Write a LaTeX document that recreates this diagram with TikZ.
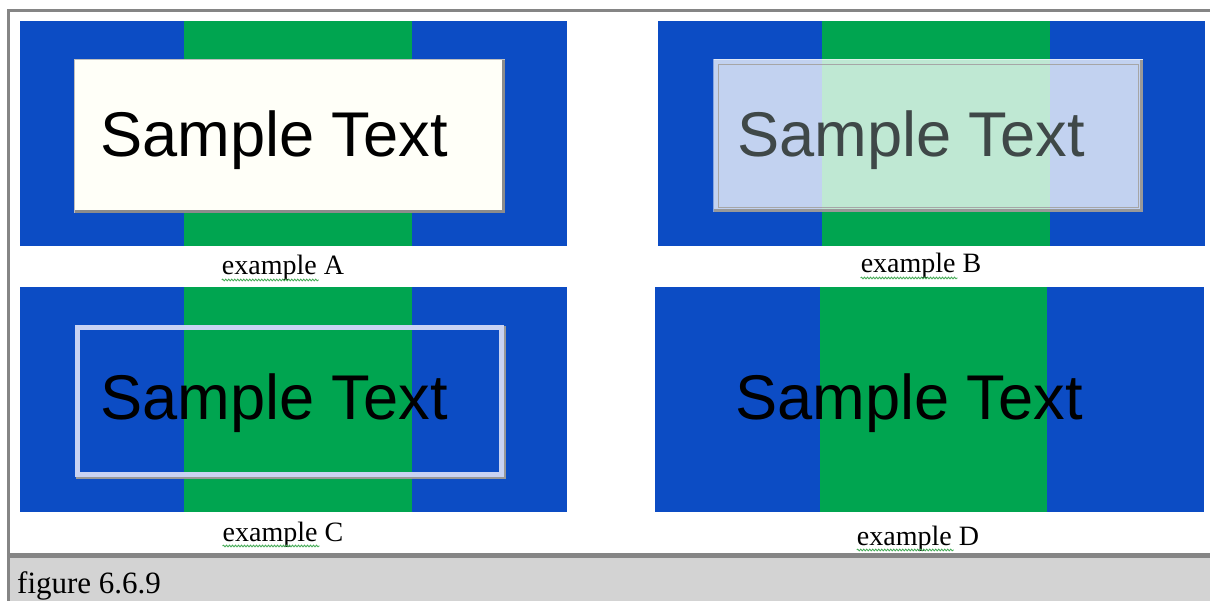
\documentclass[tikz,border=0pt]{standalone}
\usepackage{fontspec}
\setmainfont{Liberation Serif}
\newfontfamily\arialfont{Liberation Sans}
\usetikzlibrary{positioning,decorations.pathmorphing}
\definecolor{bluebar}{HTML}{0C4CC4}
\definecolor{greenbar}{HTML}{00A550}
\definecolor{framegray}{HTML}{858585}
\definecolor{capgray}{HTML}{D3D3D3}
\definecolor{ivory}{HTML}{FFFFF8}
\definecolor{lavender}{HTML}{C9D3F3}
\definecolor{textgray}{HTML}{3F4848}
\definecolor{squig}{HTML}{44AA55}

\begin{document}
\begin{tikzpicture}[x=1pt,y=-1pt,
  panel/.style={fill=bluebar,anchor=north west,inner sep=0pt,minimum width=547pt,minimum height=225pt},
  stripe/.style={fill=greenbar,anchor=north west,inner sep=0pt,minimum width=228pt,minimum height=225pt},
  sample/.style={anchor=base west,inner sep=0pt,font=\arialfont\fontsize{63.2}{63.2}\selectfont},
  btn/.style={anchor=north west,inner sep=0pt,minimum width=430pt,minimum height=153pt},
  lab/.style={anchor=base,inner sep=0pt,font=\fontsize{28}{28}\selectfont},
  squiggle/.style={draw=squig,line width=0.8pt,decorate,decoration={snake,segment length=3pt,amplitude=0.9pt}},
  shade/.style={draw=black!45,line width=3pt}]
\useasboundingbox (0,0) rectangle (1210,601);
\fill[white] (0,0) rectangle (1210,601);
% the four panels
\node[panel] (pA) at (20,21) {};
\node[stripe] (gA) at ([xshift=164pt]pA.north west) {};
\node[panel] (pB) at (658,21) {};
\node[stripe] (gB) at ([xshift=164pt]pB.north west) {};
\node[panel] (pC) at (20,287) {};
\node[stripe] (gC) at ([xshift=164pt]pC.north west) {};
\node[panel,minimum width=549pt] (pD) at (655,287) {};
\node[stripe,minimum width=227pt] (gD) at ([xshift=165pt]pD.north west) {};
% example A: opaque button
\node[btn,fill=ivory,draw=black!25,line width=1pt] (bA) at (74,59) {};
\draw[shade] ([xshift=-1.5pt,yshift=-1pt]bA.north east) -- ([xshift=-1.5pt,yshift=1.5pt]bA.south east) -- ([xshift=1pt,yshift=1.5pt]bA.south west);
\node[sample] (sA) at (100,157) {Sample Text};
% example B: see-through button
\node[btn,minimum width=429pt,minimum height=152pt,fill=white,fill opacity=0.75,draw=white,draw opacity=0.5,line width=1pt] (bB) at (713,59) {};
\draw[black!35,line width=0.8pt] ([xshift=5pt,yshift=-5pt]bB.north west) rectangle ([xshift=-5pt,yshift=5pt]bB.south east);
\draw[shade,black!40] ([xshift=-1.5pt,yshift=-1pt]bB.north east) -- ([xshift=-1.5pt,yshift=1.5pt]bB.south east) -- ([xshift=1pt,yshift=1.5pt]bB.south west);
\node[sample,text=textgray] (sB) at (737,157) {Sample Text};
% example C: outline only
\node[btn,minimum width=429pt,minimum height=152pt] (bC) at (75,325) {};
\draw[lavender,line width=5pt] ([xshift=2.5pt,yshift=-2.5pt]bC.north west) rectangle ([xshift=-2.5pt,yshift=2.5pt]bC.south east);
\draw[black!40,line width=2pt] ([xshift=1pt,yshift=-1pt]bC.north east) -- ([xshift=1pt,yshift=-1pt]bC.south east) -- ([xshift=1pt,yshift=-1pt]bC.south west);
\node[sample] (sC) at (100,420) {Sample Text};
% example D: text only
\node[sample] (sD) at (735,420) {Sample Text};
% captions
\node[lab] (lA) at (283,275) {example A};
\node[lab] (lB) at (921,273) {example B};
\node[lab] (lC) at (283,541) {example C};
\node[lab] (lD) at (918,545) {example D};
\draw[squiggle] ([yshift=-5pt]lA.base west) -- ([xshift=97pt,yshift=-5pt]lA.base west);
\draw[squiggle] ([yshift=-5pt]lB.base west) -- ([xshift=97pt,yshift=-5pt]lB.base west);
\draw[squiggle] ([yshift=-5pt]lC.base west) -- ([xshift=97pt,yshift=-5pt]lC.base west);
\draw[squiggle] ([yshift=-5pt]lD.base west) -- ([xshift=97pt,yshift=-5pt]lD.base west);
% table frame and figure caption
\fill[capgray] (10,558) rectangle (1210,601);
\draw[framegray,line width=3pt] (8.5,601) -- (8.5,11) -- (1210,11);
\draw[framegray,line width=5pt] (7,555.5) -- (1210,555.5);
\node[anchor=base west,inner sep=0pt,font=\fontsize{31}{31}\selectfont] (fig) at (17,593) {figure 6.6.9};
\end{tikzpicture}
\end{document}
